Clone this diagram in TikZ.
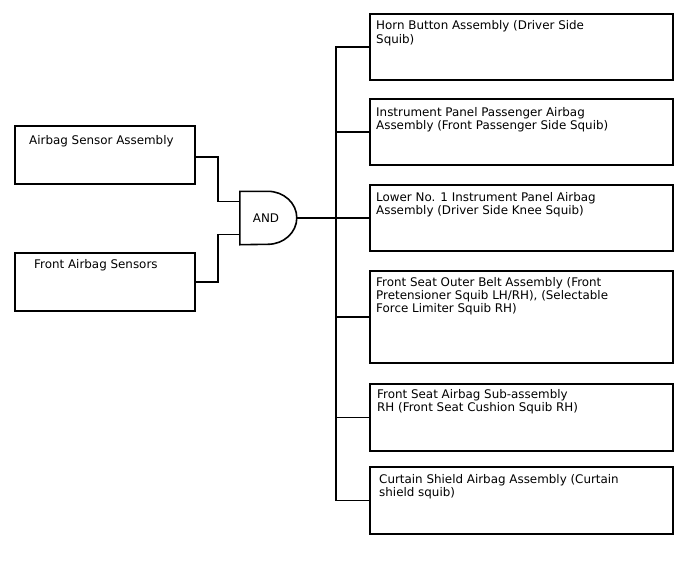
\documentclass[tikz,border=0pt]{standalone}
\usepackage{fontspec}
\setmainfont{DejaVu Sans}
\begin{document}
\begin{tikzpicture}[x=1pt,y=-1pt,
  box/.style={draw=black,line width=1.6pt,rectangle,inner sep=0pt},
  txt/.style={anchor=west,align=left,inner sep=0pt,font=\fontsize{11.9}{13.3}\selectfont},
  wire/.style={draw=black,line width=1.2pt}]
\useasboundingbox (0,0) rectangle (688,560);
% left boxes
\node[box,minimum width=180pt,minimum height=58pt] (a) at (105,155) {};
\node[box,minimum width=180pt,minimum height=58pt] (b) at (105,282) {};
\node[txt] (ta) at (29,141.5) {Airbag Sensor Assembly};
\node[txt] (tb) at (34,265) {Front Airbag Sensors};
% gate
\node[inner sep=0pt,minimum width=52pt,minimum height=53pt,font=\fontsize{11.9}{13.3}\selectfont] (g) at (266,218) {AND};
\draw[line width=1.6pt] (g.north west) -- ++(28,0) arc[start angle=-90,end angle=90,x radius=29,y radius=26.5] -- (g.south west) -- cycle;
\coordinate (gi1) at ([yshift=16.5pt]g.west);
\coordinate (gi2) at ([yshift=-16.5pt]g.west);
\coordinate (go) at ([xshift=5pt]g.east);
\coordinate (ja) at (218,0);
\draw[wire] ([yshift=-2pt]a.east) -- ([yshift=-2pt]a.east -| ja) -- (gi1 -| ja) -- (gi1);
\draw[wire] (b.east) -- (b.east -| ja) -- (gi2 -| ja) -- (gi2);
% right boxes
\node[box,minimum width=303pt,minimum height=66pt] (r1) at (521.5,47) {};
\node[box,minimum width=303pt,minimum height=66pt] (r2) at (521.5,132) {};
\node[box,minimum width=303pt,minimum height=66pt] (r3) at (521.5,218) {};
\node[box,minimum width=303pt,minimum height=92pt] (r4) at (521.5,317) {};
\node[box,minimum width=303pt,minimum height=67pt] (r5) at (521.5,417.5) {};
\node[box,minimum width=303pt,minimum height=67pt] (r6) at (521.5,500.5) {};
\node[txt,anchor=north west] (t1) at (376,20.5) {Horn Button Assembly (Driver Side\\Squib)};
\node[txt,anchor=north west] (t2) at (376,107) {Instrument Panel Passenger Airbag\\Assembly (Front Passenger Side Squib)};
\node[txt,anchor=north west] (t3) at (376,192) {Lower No. 1 Instrument Panel Airbag\\Assembly (Driver Side Knee Squib)};
\node[txt,anchor=north west] (t4) at (376,277) {Front Seat Outer Belt Assembly (Front\\Pretensioner Squib LH/RH), (Selectable\\Force Limiter Squib RH)};
\node[txt,anchor=north west] (t5) at (377,389) {Front Seat Airbag Sub-assembly\\RH (Front Seat Cushion Squib RH)};
\node[txt,anchor=north west] (t6) at (379,474) {Curtain Shield Airbag Assembly (Curtain\\shield squib)};
% bus
\coordinate (bus) at (336,0);
\draw[wire] (go) -- (go -| bus) -- (r3.west);
\draw[wire] (r1.west) -- (r1.west -| bus) -- (r6.west -| bus) -- (r6.west);
\draw[wire] (r2.west) -- (r2.west -| bus);
\draw[wire] (r4.west) -- (r4.west -| bus);
\draw[wire] (r5.west) -- (r5.west -| bus);
\end{tikzpicture}
\end{document}
